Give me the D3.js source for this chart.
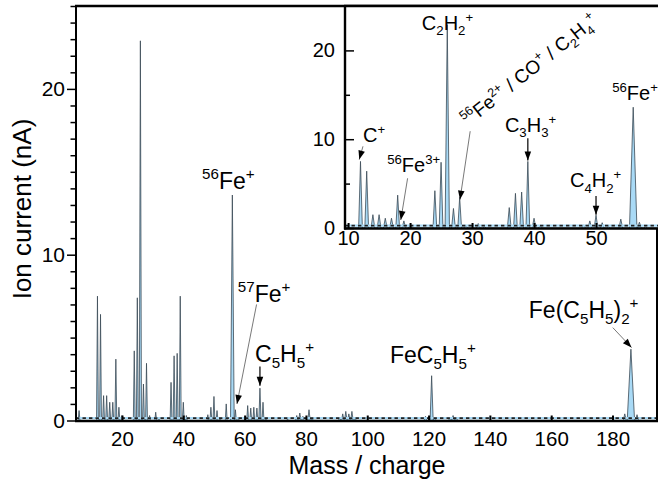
<!DOCTYPE html>
<html><head><meta charset="utf-8">
<script src="https://cdn.jsdelivr.net/npm/d3@7"></script>
<style>body{margin:0;background:#fff} text{font-family:"Liberation Sans",Arial,Helvetica,sans-serif;fill:#000}</style>
</head><body><svg id="c" width="658" height="487"></svg>
<script>
// ---- data ----
const peakMass = [6,12,13,14,15,16,17,18,19,20,24,25,26,27,28,29,31,32,36,37,38,39,40,41,48,49,50,51,52,54,56,57,58,61,62,63,64,65,66,67,74,77,78,79,81,82,91,92,93,94,95,96,119,121,122,127,128,129,184,186,188];
const peakHeight = [0.6,7.5,6.4,1.5,1.5,1.1,1.1,3.7,0.8,0.3,4.2,7.4,22.9,2.2,3.45,0.3,0.5,0.15,2.3,3.9,4.05,7.5,1.1,0.3,0.35,0.8,1.45,0.6,0.2,1.0,13.6,0.65,0.15,0.9,0.75,0.8,0.75,1.95,1.1,0.2,0.1,0.3,0.45,0.25,0.65,0.15,0.2,0.4,0.55,0.4,0.55,0.2,0.25,2.7,0.2,0.2,0.3,0.2,0.4,4.3,0.35];
const peakHalfWidth = [0.3,0.3,0.3,0.3,0.3,0.3,0.3,0.3,0.3,0.3,0.3,0.3,0.35,0.3,0.3,0.3,0.3,0.3,0.3,0.3,0.3,0.3,0.3,0.3,0.3,0.3,0.3,0.3,0.3,0.3,0.6,0.3,0.3,0.3,0.3,0.3,0.3,0.35,0.3,0.3,0.3,0.4,0.4,0.4,0.4,0.4,0.4,0.4,0.4,0.4,0.4,0.4,0.5,0.5,0.5,0.5,0.5,0.5,0.5,1.2,0.5];
const mainXTicks = [20,40,60,80,100,120,140,160,180];
const mainYTicks = [0,10,20];
const insetXTicks = [10,20,30,40,50];
const insetYTicks = [0,10,20];
const xTitle = "Mass / charge";
const yTitle = "Ion current (nA)";

// annotations in data coordinates
const mainLabels = [
  {parts:[["^","56"],["","Fe"],["^","+"]], m:46.1, v:13.96},
  {parts:[["^","57"],["","Fe"],["^","+"]], m:57.8, v:7.17, arrow:[63.9,7.0,57.5,1.0], thin:true},
  {parts:[["","C"],["_","5"],["","H"],["_","5"],["^","+"]], m:63.4, v:3.55, arrow:[65,3.25,65,2.1]},
  {parts:[["","FeC"],["_","5"],["","H"],["_","5"],["^","+"]], m:107.4, v:3.47},
  {parts:[["","Fe(C"],["_","5"],["","H"],["_","5"],["",")"],["_","2"],["^","+"]], m:152.7, v:6.18, arrow:[180.1,5.6,186.2,4.4], thin:true}
];
const insetLabels = [
  {parts:[["","C"],["^","+"]], m:12.4, v:9.68, arrow:[12.4,9.2,11.8,7.7], thin:true},
  {parts:[["^","56"],["","Fe"],["^","3+"]], m:16.3, v:6.3, arrow:[19.6,5.6,18.5,0.9], thin:true},
  {parts:[["","C"],["_","2"],["","H"],["_","2"],["^","+"]], m:21.9, v:22.3},
  {parts:[["^","56"],["","Fe"],["^","2+"],[""," / CO"],["^","+"],[""," / C"],["_","2"],["","H"],["_","4"],["^","+"]], m:29.4, v:11.4, rot:-38.5, size:19, arrow:[29.7,10.9,28.05,3.2], thin:true},
  {parts:[["","C"],["_","3"],["","H"],["_","3"],["^","+"]], m:35.3, v:10.8, arrow:[39,10.1,39,7.6]},
  {parts:[["","C"],["_","4"],["","H"],["_","2"],["^","+"]], m:45.8, v:4.6, arrow:[50,3.6,50,1.5]},
  {parts:[["^","56"],["","Fe"],["^","+"]], m:52.6, v:14.4}
];

// ---- drawing ----
const svg = d3.select("#c");
const FILL = "#a9daf6", STROKE = "#3b4a55";

function spectrumPoints(x0, x1) {
  const pts = [[x0,0]];
  peakMass.forEach((m,i)=>{
    const w = peakHalfWidth[i];
    pts.push([m-w,0],[m,peakHeight[i]],[m+w,0]);
  });
  pts.push([x1,0]);
  return pts;
}

function richText(g, x, y, parts, size, rot) {
  const t = g.append("text").attr("x",x).attr("y",y).attr("font-size",size);
  if (rot) t.attr("transform",`rotate(${rot},${x},${y})`);
  let cur = 0;
  parts.forEach(([s,txt])=>{
    const target = s==="^" ? -0.42*size : s==="_" ? 0.27*size : 0;
    t.append("tspan").attr("dy", (target-cur).toFixed(2)).attr("font-size", s ? size*0.66 : size).text(txt);
    cur = target;
  });
}

function arrow(g, x1, y1, x2, y2, thin) {
  g.append("line").attr("x1",x1).attr("y1",y1).attr("x2",x2).attr("y2",y2)
    .attr("stroke", thin ? "#555" : "#000").attr("stroke-width", thin ? 0.8 : 1.2);
  const a = Math.atan2(y2-y1, x2-x1), L = 9, W = 3.3;
  const bx = x2 - L*Math.cos(a), by = y2 - L*Math.sin(a);
  const px = -Math.sin(a)*W, py = Math.cos(a)*W;
  g.append("path").attr("d",`M${x2},${y2}L${bx+px},${by+py}L${bx-px},${by-py}Z`).attr("fill","#000");
}

function panel(opt) {
  const {x, y, id} = opt;
  const g = svg.append("g");
  const [xa, xb] = x.range(), [yb, ya] = y.range();
  if (opt.bg) g.append("rect").attr("x",xa).attr("y",ya).attr("width",xb-xa).attr("height",yb-ya).attr("fill","#fff");
  svg.append("defs").append("clipPath").attr("id",id).append("rect")
    .attr("x",xa).attr("y",ya).attr("width",xb-xa).attr("height",yb-ya);
  const pts = spectrumPoints(x.domain()[0], x.domain()[1]);
  const sg = g.append("g").attr("clip-path",`url(#${id})`);
  sg.append("path").datum(pts).attr("fill",FILL)
    .attr("d", d3.area().x(d=>x(d[0])).y0(y(0)).y1(d=>y(d[1])));
  sg.append("path").datum(pts).attr("fill","none").attr("stroke",STROKE).attr("stroke-width",0.8).attr("stroke-linejoin","round")
    .attr("d", d3.line().x(d=>x(d[0])).y(d=>y(d[1])));
  // noise floor band
  sg.append("line").attr("x1",xa).attr("x2",xb).attr("y1",yb-2.3).attr("y2",yb-2.3).attr("stroke",FILL).attr("stroke-width",2.2);
  sg.append("line").attr("x1",xa).attr("x2",xb).attr("y1",yb-2.3).attr("y2",yb-2.3).attr("stroke","#222").attr("stroke-width",1.8).attr("stroke-dasharray","3.4,3.1");
  return g;
}

// main panel
const xM = d3.scaleLinear().domain([5,195]).range([76,658.5]);
const yM = d3.scaleLinear().domain([0,25]).range([420.5,6]);
const gM = panel({x:xM, y:yM, id:"clipM"});

// main axes
const axX = gM.append("g").attr("transform",`translate(0,${yM(0)})`)
  .call(d3.axisBottom(xM).tickValues(mainXTicks).tickSizeInner(-5).tickSizeOuter(0).tickPadding(11).tickFormat(d3.format("d")));
axX.select(".domain").remove();
axX.selectAll("line").attr("stroke","#000").attr("stroke-width",2);
axX.selectAll("text").attr("font-size",20.5).attr("font-family",null);

const minorY = d3.range(0,26,1).filter(v=>mainYTicks.indexOf(v)<0);
const axYm = gM.append("g").attr("transform",`translate(${xM(5)},0)`)
  .call(d3.axisLeft(yM).tickValues(minorY).tickSizeInner(5.5).tickSizeOuter(0).tickFormat(""));
axYm.select(".domain").remove();
axYm.selectAll("line").attr("stroke","#000").attr("stroke-width",1.5);
const axY = gM.append("g").attr("transform",`translate(${xM(5)},0)`)
  .call(d3.axisLeft(yM).tickValues(mainYTicks).tickSizeInner(9).tickSizeOuter(0).tickPadding(2).tickFormat(d3.format("d")));
axY.select(".domain").remove();
axY.selectAll("line").attr("stroke","#000").attr("stroke-width",1.5);
axY.selectAll("text").attr("font-size",21).attr("font-family",null);

// main frame
const fr = gM.append("g").attr("stroke","#000").attr("fill","none");
fr.append("line").attr("x1",xM(5)).attr("x2",xM(5)).attr("y1",yM(25)).attr("y2",yM(0)+1.5).attr("stroke-width",2);
fr.append("line").attr("x1",xM(5)-1).attr("x2",658).attr("y1",yM(0)+0.5).attr("y2",yM(0)+0.5).attr("stroke-width",2.6);
fr.append("line").attr("x1",xM(5)-1).attr("x2",658).attr("y1",yM(25)).attr("y2",yM(25)).attr("stroke-width",2.4);
fr.append("line").attr("x1",657).attr("x2",657).attr("y1",yM(25)).attr("y2",yM(0)).attr("stroke-width",2);

// titles
gM.append("text").attr("x",367).attr("y",474).attr("text-anchor","middle").attr("font-size",25).text(xTitle);
gM.append("text").attr("transform","translate(31,209) rotate(-90)").attr("text-anchor","middle").attr("font-size",26).text(yTitle);

// main labels
mainLabels.forEach(l=>{
  richText(gM, xM(l.m), yM(l.v), l.parts, 23);
  if (l.arrow) arrow(gM, xM(l.arrow[0]), yM(l.arrow[1]), xM(l.arrow[2]), yM(l.arrow[3]), l.thin);
});

// inset panel
const xI = d3.scaleLinear().domain([9.5,60]).range([345,658]);
const yI = d3.scaleLinear().domain([0,25]).range([228,6]);
const gI = panel({x:xI, y:yI, id:"clipI", bg:true});

const axXi = gI.append("g").attr("transform",`translate(0,${yI(0)})`)
  .call(d3.axisBottom(xI).tickValues(insetXTicks).tickSizeInner(-5).tickSizeOuter(0).tickPadding(3).tickFormat(d3.format("d")));
axXi.select(".domain").remove();
axXi.selectAll("line").attr("stroke","#000").attr("stroke-width",2);
axXi.selectAll("text").attr("font-size",20).attr("font-family",null);
const axYim = gI.append("g").attr("transform",`translate(${xI(9.5)},0)`)
  .call(d3.axisLeft(yI).tickValues([5,15]).tickSizeInner(-5).tickSizeOuter(0).tickFormat(""));
axYim.select(".domain").remove();
axYim.selectAll("line").attr("stroke","#000").attr("stroke-width",1.5);
const axYi = gI.append("g").attr("transform",`translate(${xI(9.5)},0)`)
  .call(d3.axisLeft(yI).tickValues(insetYTicks).tickSizeInner(-9).tickSizeOuter(0).tickPadding(10).tickFormat(d3.format("d")));
axYi.select(".domain").remove();
axYi.selectAll("line").attr("stroke","#000").attr("stroke-width",1.5);
axYi.selectAll("text").attr("font-size",20).attr("font-family",null);

const fi = gI.append("g").attr("stroke","#000").attr("fill","none");
fi.append("line").attr("x1",xI(9.5)).attr("x2",xI(9.5)).attr("y1",yI(25)).attr("y2",yI(0)+1.5).attr("stroke-width",2.4);
fi.append("line").attr("x1",xI(9.5)-1).attr("x2",658).attr("y1",yI(0)+0.5).attr("y2",yI(0)+0.5).attr("stroke-width",2.4);
fi.append("line").attr("x1",xI(9.5)-1).attr("x2",658).attr("y1",yI(25)).attr("y2",yI(25)).attr("stroke-width",2.4);

insetLabels.forEach(l=>{
  richText(gI, xI(l.m), yI(l.v), l.parts, l.size || 20, l.rot);
  if (l.arrow) arrow(gI, xI(l.arrow[0]), yI(l.arrow[1]), xI(l.arrow[2]), yI(l.arrow[3]), l.thin);
});
</script></body></html>
